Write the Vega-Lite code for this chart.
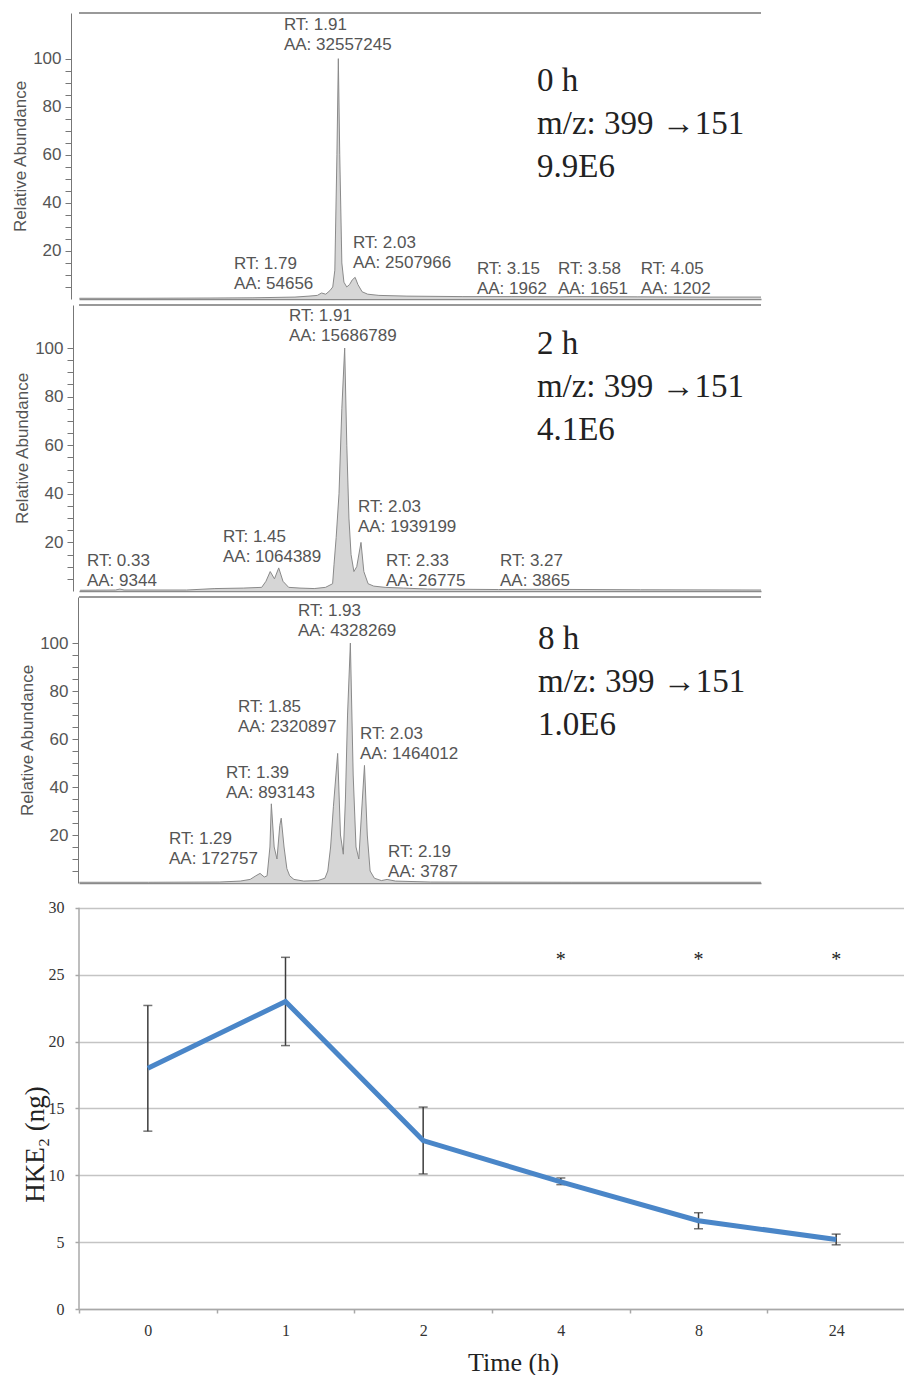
{
  "$schema": "https://vega.github.io/schema/vega-lite/v6.json",
  "padding": {"left": 11, "top": 12, "right": 0, "bottom": 0},
  "background": "white",
  "config": {"view": {"stroke": null}},
  "spacing": 6,
  "bounds": "flush",
  "datasets": {
    "trace": [
      {"panel": "0 h", "rt": 0.06, "ab": 0.3}, {"panel": "0 h", "rt": 0.5, "ab": 0.3}, {"panel": "0 h", "rt": 1.0, "ab": 0.4}, {"panel": "0 h", "rt": 1.3, "ab": 0.5},
      {"panel": "0 h", "rt": 1.6, "ab": 0.8}, {"panel": "0 h", "rt": 1.7, "ab": 1.2}, {"panel": "0 h", "rt": 1.76, "ab": 1.5}, {"panel": "0 h", "rt": 1.79, "ab": 2.5},
      {"panel": "0 h", "rt": 1.82, "ab": 2.0}, {"panel": "0 h", "rt": 1.85, "ab": 3.5}, {"panel": "0 h", "rt": 1.87, "ab": 5}, {"panel": "0 h", "rt": 1.885, "ab": 12},
      {"panel": "0 h", "rt": 1.9, "ab": 60}, {"panel": "0 h", "rt": 1.91, "ab": 100}, {"panel": "0 h", "rt": 1.92, "ab": 60}, {"panel": "0 h", "rt": 1.935, "ab": 15},
      {"panel": "0 h", "rt": 1.95, "ab": 7}, {"panel": "0 h", "rt": 1.97, "ab": 5}, {"panel": "0 h", "rt": 1.99, "ab": 6}, {"panel": "0 h", "rt": 2.01, "ab": 8},
      {"panel": "0 h", "rt": 2.03, "ab": 9}, {"panel": "0 h", "rt": 2.05, "ab": 6}, {"panel": "0 h", "rt": 2.08, "ab": 3}, {"panel": "0 h", "rt": 2.12, "ab": 2},
      {"panel": "0 h", "rt": 2.2, "ab": 1.5}, {"panel": "0 h", "rt": 2.4, "ab": 1.2}, {"panel": "0 h", "rt": 2.8, "ab": 1.0}, {"panel": "0 h", "rt": 3.15, "ab": 1.0},
      {"panel": "0 h", "rt": 3.5, "ab": 0.9}, {"panel": "0 h", "rt": 3.58, "ab": 1.0}, {"panel": "0 h", "rt": 4.05, "ab": 0.9}, {"panel": "0 h", "rt": 4.5, "ab": 0.8},
      {"panel": "0 h", "rt": 4.93, "ab": 0.8},
      {"panel": "2 h", "rt": 0.05, "ab": 0.3}, {"panel": "2 h", "rt": 0.3, "ab": 0.4}, {"panel": "2 h", "rt": 0.33, "ab": 0.8}, {"panel": "2 h", "rt": 0.36, "ab": 0.4},
      {"panel": "2 h", "rt": 0.8, "ab": 0.4}, {"panel": "2 h", "rt": 1.0, "ab": 1.0}, {"panel": "2 h", "rt": 1.2, "ab": 1.2}, {"panel": "2 h", "rt": 1.33, "ab": 1.5},
      {"panel": "2 h", "rt": 1.36, "ab": 4}, {"panel": "2 h", "rt": 1.39, "ab": 8}, {"panel": "2 h", "rt": 1.42, "ab": 5}, {"panel": "2 h", "rt": 1.45, "ab": 9.5},
      {"panel": "2 h", "rt": 1.48, "ab": 4}, {"panel": "2 h", "rt": 1.52, "ab": 1.5}, {"panel": "2 h", "rt": 1.6, "ab": 1.2}, {"panel": "2 h", "rt": 1.7, "ab": 1.0},
      {"panel": "2 h", "rt": 1.78, "ab": 1.5}, {"panel": "2 h", "rt": 1.83, "ab": 3}, {"panel": "2 h", "rt": 1.84, "ab": 11}, {"panel": "2 h", "rt": 1.855, "ab": 22},
      {"panel": "2 h", "rt": 1.875, "ab": 40}, {"panel": "2 h", "rt": 1.895, "ab": 75}, {"panel": "2 h", "rt": 1.915, "ab": 100}, {"panel": "2 h", "rt": 1.93, "ab": 60},
      {"panel": "2 h", "rt": 1.945, "ab": 30}, {"panel": "2 h", "rt": 1.96, "ab": 15}, {"panel": "2 h", "rt": 1.98, "ab": 8}, {"panel": "2 h", "rt": 2.0, "ab": 10},
      {"panel": "2 h", "rt": 2.03, "ab": 20}, {"panel": "2 h", "rt": 2.05, "ab": 8}, {"panel": "2 h", "rt": 2.08, "ab": 3}, {"panel": "2 h", "rt": 2.12, "ab": 2},
      {"panel": "2 h", "rt": 2.2, "ab": 1.5}, {"panel": "2 h", "rt": 2.33, "ab": 1.2}, {"panel": "2 h", "rt": 2.5, "ab": 0.8}, {"panel": "2 h", "rt": 3.0, "ab": 0.6},
      {"panel": "2 h", "rt": 3.27, "ab": 0.7}, {"panel": "2 h", "rt": 4.0, "ab": 0.5}, {"panel": "2 h", "rt": 4.85, "ab": 0.4},
      {"panel": "8 h", "rt": 0.01, "ab": 0.3}, {"panel": "8 h", "rt": 0.5, "ab": 0.3}, {"panel": "8 h", "rt": 1.0, "ab": 0.4}, {"panel": "8 h", "rt": 1.15, "ab": 0.8},
      {"panel": "8 h", "rt": 1.22, "ab": 1.5}, {"panel": "8 h", "rt": 1.26, "ab": 3}, {"panel": "8 h", "rt": 1.29, "ab": 4}, {"panel": "8 h", "rt": 1.32, "ab": 2.5},
      {"panel": "8 h", "rt": 1.34, "ab": 3}, {"panel": "8 h", "rt": 1.36, "ab": 15}, {"panel": "8 h", "rt": 1.37, "ab": 33}, {"panel": "8 h", "rt": 1.39, "ab": 15},
      {"panel": "8 h", "rt": 1.41, "ab": 10}, {"panel": "8 h", "rt": 1.43, "ab": 24}, {"panel": "8 h", "rt": 1.44, "ab": 27}, {"panel": "8 h", "rt": 1.46, "ab": 15},
      {"panel": "8 h", "rt": 1.48, "ab": 6}, {"panel": "8 h", "rt": 1.5, "ab": 3}, {"panel": "8 h", "rt": 1.53, "ab": 1.5}, {"panel": "8 h", "rt": 1.6, "ab": 0.8},
      {"panel": "8 h", "rt": 1.7, "ab": 1.0}, {"panel": "8 h", "rt": 1.75, "ab": 2}, {"panel": "8 h", "rt": 1.77, "ab": 5}, {"panel": "8 h", "rt": 1.79, "ab": 15},
      {"panel": "8 h", "rt": 1.81, "ab": 32}, {"panel": "8 h", "rt": 1.84, "ab": 54}, {"panel": "8 h", "rt": 1.86, "ab": 20}, {"panel": "8 h", "rt": 1.88, "ab": 12},
      {"panel": "8 h", "rt": 1.895, "ab": 35}, {"panel": "8 h", "rt": 1.91, "ab": 70}, {"panel": "8 h", "rt": 1.93, "ab": 100}, {"panel": "8 h", "rt": 1.95, "ab": 45},
      {"panel": "8 h", "rt": 1.97, "ab": 15}, {"panel": "8 h", "rt": 1.99, "ab": 10}, {"panel": "8 h", "rt": 2.01, "ab": 30}, {"panel": "8 h", "rt": 2.03, "ab": 49},
      {"panel": "8 h", "rt": 2.05, "ab": 20}, {"panel": "8 h", "rt": 2.07, "ab": 5}, {"panel": "8 h", "rt": 2.1, "ab": 2}, {"panel": "8 h", "rt": 2.15, "ab": 1},
      {"panel": "8 h", "rt": 2.19, "ab": 1.5}, {"panel": "8 h", "rt": 2.25, "ab": 0.8}, {"panel": "8 h", "rt": 2.5, "ab": 0.4}, {"panel": "8 h", "rt": 3.5, "ab": 0.3},
      {"panel": "8 h", "rt": 4.84, "ab": 0.3}
    ],
    "labels": [
      {"panel": "0 h", "lx": 1.521, "ly": 113.8, "txt": "RT: 1.91\nAA: 32557245"},
      {"panel": "0 h", "lx": 1.164, "ly": 14.6, "txt": "RT: 1.79\nAA: 54656"},
      {"panel": "0 h", "lx": 2.014, "ly": 23.4, "txt": "RT: 2.03\nAA: 2507966"},
      {"panel": "0 h", "lx": 2.9, "ly": 12.5, "txt": "RT: 3.15\nAA: 1962"},
      {"panel": "0 h", "lx": 3.479, "ly": 12.5, "txt": "RT: 3.58\nAA: 1651"},
      {"panel": "0 h", "lx": 4.07, "ly": 12.5, "txt": "RT: 4.05\nAA: 1202"},
      {"panel": "2 h", "lx": 1.522, "ly": 113.1, "txt": "RT: 1.91\nAA: 15686789"},
      {"panel": "2 h", "lx": 2.009, "ly": 34.6, "txt": "RT: 2.03\nAA: 1939199"},
      {"panel": "2 h", "lx": 1.057, "ly": 22.1, "txt": "RT: 1.45\nAA: 1064389"},
      {"panel": "2 h", "lx": 0.098, "ly": 12.3, "txt": "RT: 0.33\nAA: 9344"},
      {"panel": "2 h", "lx": 2.206, "ly": 12.3, "txt": "RT: 2.33\nAA: 26775"},
      {"panel": "2 h", "lx": 3.01, "ly": 12.3, "txt": "RT: 3.27\nAA: 3865"},
      {"panel": "8 h", "lx": 1.559, "ly": 113.2, "txt": "RT: 1.93\nAA: 4328269"},
      {"panel": "8 h", "lx": 1.134, "ly": 73.2, "txt": "RT: 1.85\nAA: 2320897"},
      {"panel": "8 h", "lx": 1.998, "ly": 62.2, "txt": "RT: 2.03\nAA: 1464012"},
      {"panel": "8 h", "lx": 1.049, "ly": 45.9, "txt": "RT: 1.39\nAA: 893143"},
      {"panel": "8 h", "lx": 0.645, "ly": 18.4, "txt": "RT: 1.29\nAA: 172757"},
      {"panel": "8 h", "lx": 2.197, "ly": 12.9, "txt": "RT: 2.19\nAA: 3787"}
    ],
    "info": [
      {"panel": "0 h", "lx": 3.33, "ly": 86.7, "txt": "0 h\nm/z: 399 →151\n9.9E6"},
      {"panel": "2 h", "lx": 3.27, "ly": 97.5, "txt": "2 h\nm/z: 399 →151\n4.1E6"},
      {"panel": "8 h", "lx": 3.26, "ly": 97.5, "txt": "8 h\nm/z: 399 →151\n1.0E6"}
    ],
    "hke": [
      {"t": "0", "mean": 18.0, "lo": 13.3, "hi": 22.7},
      {"t": "1", "mean": 23.0, "lo": 19.7, "hi": 26.3},
      {"t": "2", "mean": 12.6, "lo": 10.1, "hi": 15.1},
      {"t": "4", "mean": 9.5, "lo": 9.3, "hi": 9.8},
      {"t": "8", "mean": 6.6, "lo": 6.0, "hi": 7.2},
      {"t": "24", "mean": 5.2, "lo": 4.8, "hi": 5.6}
    ],
    "sig": [
      {"t": "4", "y": 25.65},
      {"t": "8", "y": 25.65},
      {"t": "24", "y": 25.65}
    ]
  },
  "vconcat": [
    {
      "width": 682, "height": 286,
      "layer": [
        {
          "data": {"name": "trace"},
          "transform": [{"filter": "datum.panel === '0 h'"}],
          "mark": {"type": "area", "color": "#d6d6d6", "opacity": 1, "clip": true, "line": {"color": "#8a8a8a", "strokeWidth": 1}},
          "encoding": {
            "x": {"field": "rt", "type": "quantitative", "scale": {"domain": [0.057, 4.93], "nice": false, "zero": false},
                  "axis": {"labels": false, "ticks": false, "grid": false, "title": null, "domainColor": "#8a8a8a", "domainWidth": 1.5}},
            "y": {"field": "ab", "type": "quantitative", "scale": {"domain": [0, 119], "nice": false},
                  "axis": {"values": [5,10,15,20,25,30,35,40,45,50,55,60,65,70,75,80,85,90,95,100], "tickCount": 40, "labelExpr": "datum.value % 20 === 0 ? datum.label : ''", "labelOverlap": false,
                           "grid": false, "offset": 8, "tickSize": 6, "tickColor": "#777", "domainColor": "#777", "labelFont": "Liberation Sans", "labelFontSize": 17, "labelColor": "#555", "labelPadding": 4,
                           "title": "Relative Abundance", "titleFont": "Liberation Sans", "titleFontSize": 17, "titleFontWeight": "normal", "titleColor": "#555", "titlePadding": 3}}
          }
        },
        {"data": {"values": [{}]}, "mark": {"type": "rule", "color": "#777", "strokeWidth": 1.5}, "encoding": {"y": {"datum": 119}}},
        {
          "data": {"name": "labels"},
          "transform": [{"filter": "datum.panel === '0 h'"}],
          "mark": {"type": "text", "font": "Liberation Sans", "fontSize": 17, "color": "#555", "lineBreak": "\n", "lineHeight": 20, "align": "left", "baseline": "middle"},
          "encoding": {"x": {"field": "lx", "type": "quantitative"}, "y": {"field": "ly", "type": "quantitative"}, "text": {"field": "txt"}}
        },
        {
          "data": {"name": "info"},
          "transform": [{"filter": "datum.panel === '0 h'"}],
          "mark": {"type": "text", "font": "Liberation Serif", "fontSize": 33, "color": "#222", "lineBreak": "\n", "lineHeight": 43, "align": "left", "baseline": "alphabetic"},
          "encoding": {"x": {"field": "lx", "type": "quantitative"}, "y": {"field": "ly", "type": "quantitative"}, "text": {"field": "txt"}}
        }
      ]
    },
    {
      "width": 682, "height": 286,
      "layer": [
        {
          "data": {"name": "trace"},
          "transform": [{"filter": "datum.panel === '2 h'"}],
          "mark": {"type": "area", "color": "#d6d6d6", "opacity": 1, "clip": true, "line": {"color": "#8a8a8a", "strokeWidth": 1}},
          "encoding": {
            "x": {"field": "rt", "type": "quantitative", "scale": {"domain": [0.042, 4.85], "nice": false, "zero": false},
                  "axis": {"labels": false, "ticks": false, "grid": false, "title": null, "domainColor": "#8a8a8a", "domainWidth": 1.5}},
            "y": {"field": "ab", "type": "quantitative", "scale": {"domain": [0, 117.7], "nice": false},
                  "axis": {"values": [5,10,15,20,25,30,35,40,45,50,55,60,65,70,75,80,85,90,95,100], "tickCount": 40, "labelExpr": "datum.value % 20 === 0 ? datum.label : ''", "labelOverlap": false,
                           "grid": false, "offset": 6, "tickSize": 6, "tickColor": "#777", "domainColor": "#777", "labelFont": "Liberation Sans", "labelFontSize": 17, "labelColor": "#555", "labelPadding": 4,
                           "title": "Relative Abundance", "titleFont": "Liberation Sans", "titleFontSize": 17, "titleFontWeight": "normal", "titleColor": "#555", "titlePadding": 3}}
          }
        },
        {"data": {"values": [{}]}, "mark": {"type": "rule", "color": "#777", "strokeWidth": 1.5}, "encoding": {"y": {"datum": 117.7}}},
        {
          "data": {"name": "labels"},
          "transform": [{"filter": "datum.panel === '2 h'"}],
          "mark": {"type": "text", "font": "Liberation Sans", "fontSize": 17, "color": "#555", "lineBreak": "\n", "lineHeight": 20, "align": "left", "baseline": "middle"},
          "encoding": {"x": {"field": "lx", "type": "quantitative"}, "y": {"field": "ly", "type": "quantitative"}, "text": {"field": "txt"}}
        },
        {
          "data": {"name": "info"},
          "transform": [{"filter": "datum.panel === '2 h'"}],
          "mark": {"type": "text", "font": "Liberation Serif", "fontSize": 33, "color": "#222", "lineBreak": "\n", "lineHeight": 43, "align": "left", "baseline": "alphabetic"},
          "encoding": {"x": {"field": "lx", "type": "quantitative"}, "y": {"field": "ly", "type": "quantitative"}, "text": {"field": "txt"}}
        }
      ]
    },
    {
      "width": 682, "height": 286,
      "layer": [
        {
          "data": {"name": "trace"},
          "transform": [{"filter": "datum.panel === '8 h'"}],
          "mark": {"type": "area", "color": "#d6d6d6", "opacity": 1, "clip": true, "line": {"color": "#8a8a8a", "strokeWidth": 1}},
          "encoding": {
            "x": {"field": "rt", "type": "quantitative", "scale": {"domain": [0.007, 4.84], "nice": false, "zero": false},
                  "axis": {"labels": false, "ticks": false, "grid": false, "title": null, "domainColor": "#8a8a8a", "domainWidth": 1.5}},
            "y": {"field": "ab", "type": "quantitative", "scale": {"domain": [0, 119.2], "nice": false},
                  "axis": {"values": [5,10,15,20,25,30,35,40,45,50,55,60,65,70,75,80,85,90,95,100], "tickCount": 40, "labelExpr": "datum.value % 20 === 0 ? datum.label : ''", "labelOverlap": false,
                           "grid": false, "offset": 1, "tickSize": 6, "tickColor": "#777", "domainColor": "#777", "labelFont": "Liberation Sans", "labelFontSize": 17, "labelColor": "#555", "labelPadding": 4,
                           "title": "Relative Abundance", "titleFont": "Liberation Sans", "titleFontSize": 17, "titleFontWeight": "normal", "titleColor": "#555", "titlePadding": 3}}
          }
        },
        {"data": {"values": [{}]}, "mark": {"type": "rule", "color": "#777", "strokeWidth": 1.5}, "encoding": {"y": {"datum": 119.2}}},
        {
          "data": {"name": "labels"},
          "transform": [{"filter": "datum.panel === '8 h'"}],
          "mark": {"type": "text", "font": "Liberation Sans", "fontSize": 17, "color": "#555", "lineBreak": "\n", "lineHeight": 20, "align": "left", "baseline": "middle"},
          "encoding": {"x": {"field": "lx", "type": "quantitative"}, "y": {"field": "ly", "type": "quantitative"}, "text": {"field": "txt"}}
        },
        {
          "data": {"name": "info"},
          "transform": [{"filter": "datum.panel === '8 h'"}],
          "mark": {"type": "text", "font": "Liberation Serif", "fontSize": 33, "color": "#222", "lineBreak": "\n", "lineHeight": 43, "align": "left", "baseline": "alphabetic"},
          "encoding": {"x": {"field": "lx", "type": "quantitative"}, "y": {"field": "ly", "type": "quantitative"}, "text": {"field": "txt"}}
        }
      ]
    },
    {
      "width": 826, "height": 420,
      "data": {"name": "hke"},
      "encoding": {
        "x": {"field": "t", "type": "ordinal",
              "scale": {"type": "band", "domain": ["0", "1", "2", "4", "8", "24"], "paddingInner": 0, "paddingOuter": 0},
              "axis": {"tickBand": "extent", "tickSize": 4, "tickColor": "#a8a8a8", "tickWidth": 1.5, "domainColor": "#a8a8a8", "domainWidth": 1.5,
                       "labelAngle": 0, "labelFont": "Liberation Serif", "labelFontSize": 16, "labelColor": "#333", "labelPadding": 9,
                       "title": "Time (h)", "titleFont": "Liberation Serif", "titleFontSize": 26, "titleFontWeight": "normal", "titleColor": "#222", "titlePadding": 11, "titleX": 434}}
      },
      "layer": [
        {
          "data": {"values": [{}]},
          "mark": {"type": "rule", "color": "#a8a8a8", "strokeWidth": 1.5},
          "encoding": {"x": {"datum": "0", "type": "ordinal", "bandPosition": 0}, "y": {"datum": 0, "type": "quantitative"}, "y2": {"datum": 30}}
        },
        {
          "mark": {"type": "rule", "color": "#3c3c3c", "strokeWidth": 1.5},
          "encoding": {
            "y": {"field": "lo", "type": "quantitative", "scale": {"domain": [0, 31.41], "nice": false},
                  "axis": {"values": [0, 5, 10, 15, 20, 25, 30], "grid": true, "gridColor": "#c4c4c4", "gridWidth": 1.5, "domain": false,
                           "tickSize": 4, "tickColor": "#a8a8a8", "tickWidth": 1.5, "labelFont": "Liberation Serif", "labelFontSize": 16, "labelColor": "#333", "labelPadding": 11,
                           "title": "HKE₂ (ng)", "titleFont": "Liberation Serif", "titleFontSize": 27, "titleFontWeight": "normal", "titleColor": "#222",
                           "titleX": -44, "titleY": 255, "titleBaseline": "middle", "titleAngle": -90}},
            "y2": {"field": "hi"}
          }
        },
        {"mark": {"type": "tick", "color": "#3c3c3c", "thickness": 1.5, "size": 9}, "encoding": {"y": {"field": "lo", "type": "quantitative"}}},
        {"mark": {"type": "tick", "color": "#3c3c3c", "thickness": 1.5, "size": 9}, "encoding": {"y": {"field": "hi", "type": "quantitative"}}},
        {"mark": {"type": "line", "color": "#4a86c8", "strokeWidth": 5}, "encoding": {"y": {"field": "mean", "type": "quantitative"}}},
        {
          "data": {"name": "sig"},
          "mark": {"type": "text", "font": "Liberation Serif", "fontSize": 20, "color": "#222", "baseline": "alphabetic", "align": "center"},
          "encoding": {"y": {"field": "y", "type": "quantitative"}, "text": {"value": "*"}}
        }
      ]
    }
  ]
}
